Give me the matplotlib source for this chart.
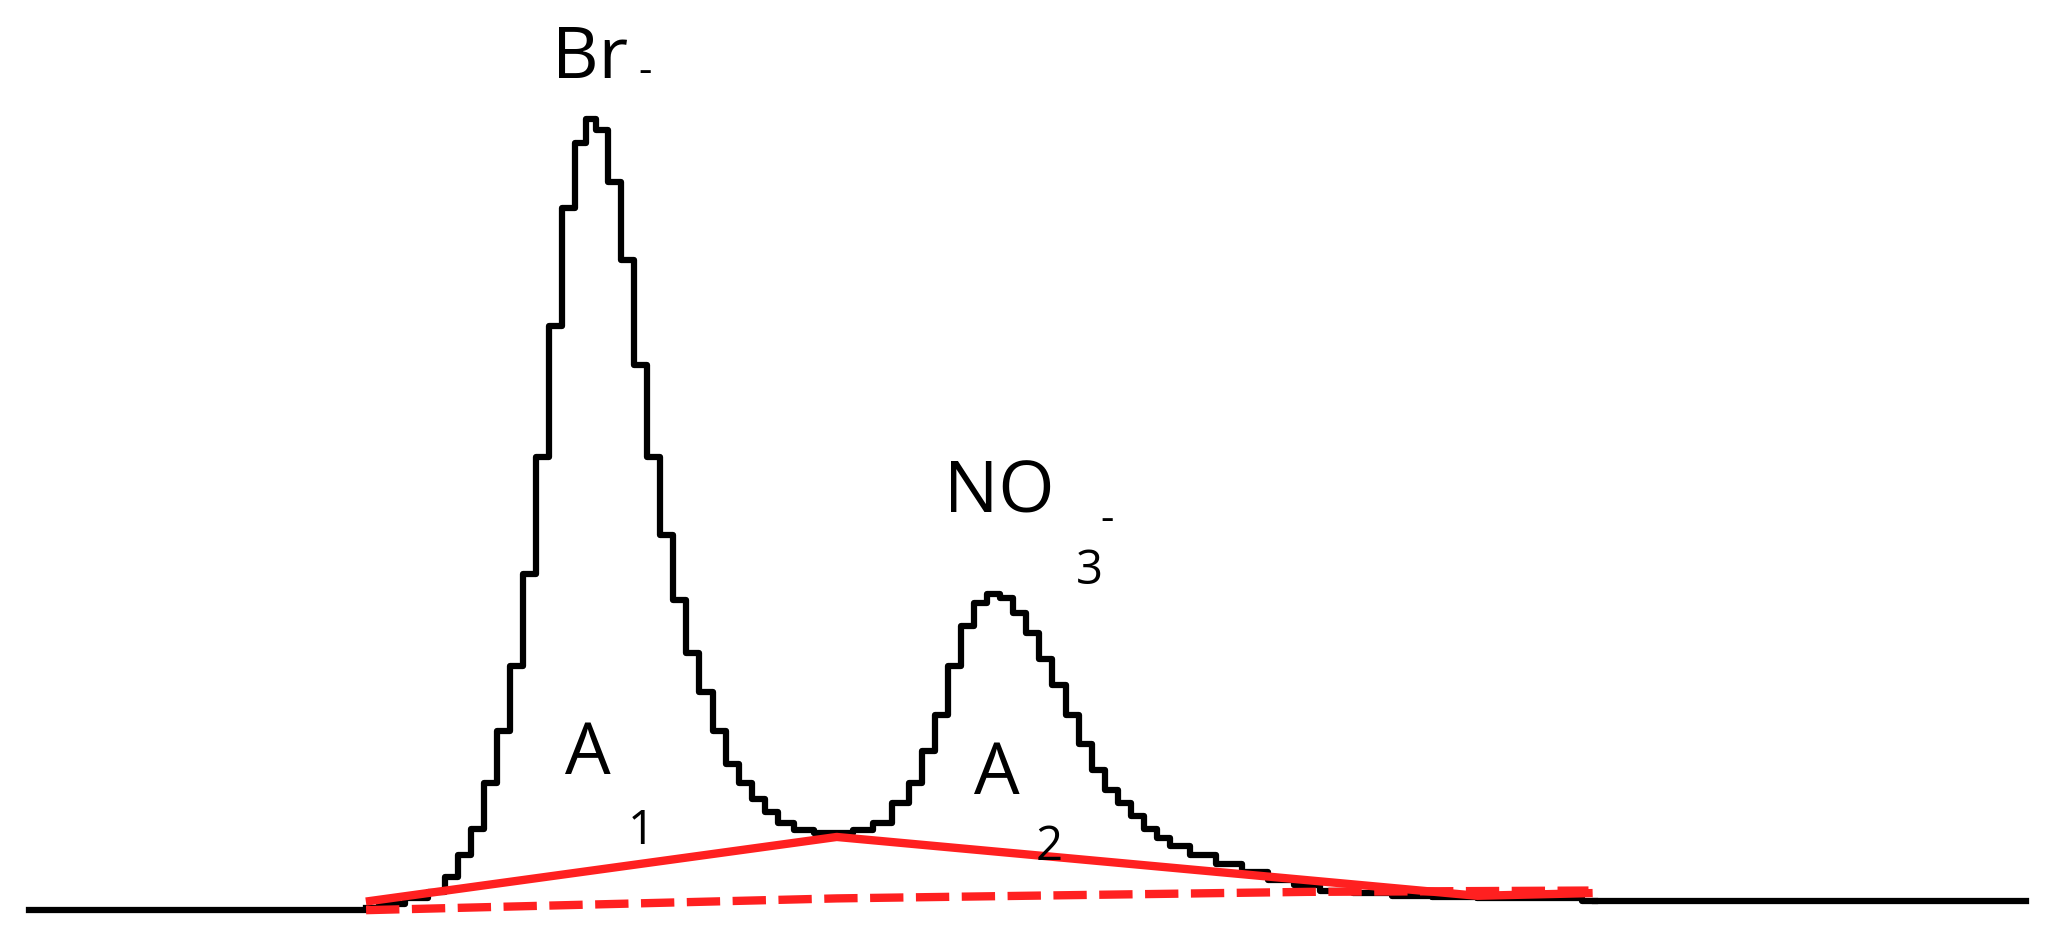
import matplotlib
matplotlib.use("Agg")
import matplotlib.pyplot as plt

plt.rcParams["font.family"] = ["Open Sans", "DejaVu Sans"]

# chromatogram trace (x = time, y = signal in screen px from top)
trace_x = [280, 300, 320, 335, 345, 355, 365, 375, 385, 395, 405, 415, 425, 435, 445, 452,
           460, 470, 480, 490, 500, 510, 520, 530, 540, 550, 560, 570, 580, 590, 600, 615,
           630, 645, 660, 675, 690, 700, 710, 720, 730, 740, 750, 760, 770, 780, 790, 800,
           810, 820, 830, 840, 850, 860, 870, 880, 890, 900, 920, 940, 960, 980, 1000, 1020,
           1050, 1080, 1110, 1150, 1200, 1220]
trace_y = [695, 692, 688, 683, 672, 655, 635, 600, 560, 510, 440, 350, 250, 160, 110, 92,
           100, 140, 200, 280, 350, 410, 460, 500, 530, 560, 585, 600, 612, 622, 630, 636,
           638, 638, 636, 630, 615, 600, 575, 548, 510, 480, 462, 455, 458, 470, 485, 505,
           525, 548, 570, 590, 605, 615, 625, 635, 642, 648, 655, 662, 668, 674, 678, 682,
           684, 686, 687, 688, 688, 690]
flat_left_x, flat_left_y = [22, 280], [697, 697]
flat_right_x, flat_right_y = [1220, 1550], [690, 690]
base_solid_x, base_solid_y = [283, 640, 1130, 1215], [690, 641, 686, 684]
base_dash_x, base_dash_y = [280, 640, 1000, 1215], [697, 688, 683, 682]

fig = plt.figure(figsize=(20.5, 9.53), dpi=100)
ax = fig.add_axes([0, 0, 1, 1])
ax.set_xlim(0, 1568)
ax.set_ylim(729, 0)
ax.axis("off")

ax.plot(trace_x, trace_y, color="black", lw=4.5, drawstyle="steps-mid")
ax.plot(flat_left_x, flat_left_y, color="black", lw=4.5)
ax.plot(flat_right_x, flat_right_y, color="black", lw=4.5)
ax.plot(base_solid_x, base_solid_y, color="#ff2020", lw=6)
ax.plot(base_dash_x, base_dash_y, color="#ff2020", lw=6, ls=(0, (4, 1.5)))

fs = 52
ax.text(422, 45, "Br", fontsize=fs, ha="left", va="center")
ax.text(488, 55, "-", fontsize=30, ha="left", va="center")
ax.text(722, 378, "NO", fontsize=fs, ha="left", va="center")
ax.text(823, 437, "3", fontsize=34, ha="left", va="center")
ax.text(842, 398, "-", fontsize=30, ha="left", va="center")
ax.text(432, 578, "A", fontsize=fs, ha="left", va="center")
ax.text(480, 636, "1", fontsize=34, ha="left", va="center")
ax.text(745, 593, "A", fontsize=fs, ha="left", va="center")
ax.text(792, 648, "2", fontsize=34, ha="left", va="center")

fig.savefig("out.png", dpi=100)
